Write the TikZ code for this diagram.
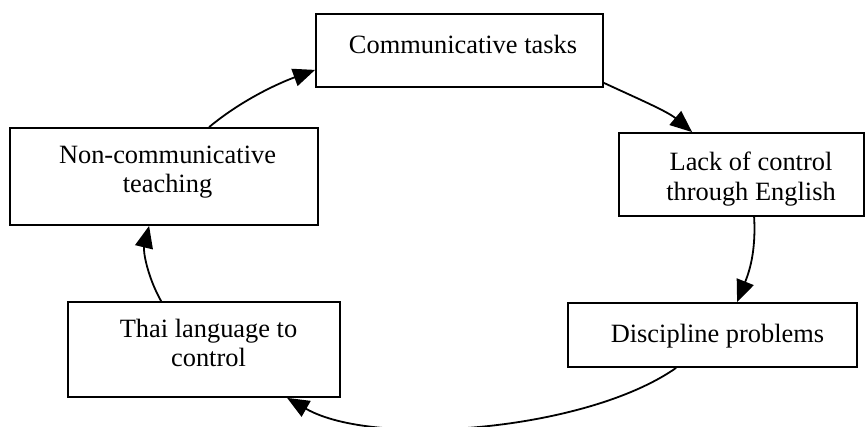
\documentclass[tikz,border=0pt]{standalone}
\usepackage{fontspec}
\setmainfont{Liberation Serif}
\usetikzlibrary{arrows.meta}
\begin{document}
\begin{tikzpicture}[x=1pt,y=-1pt,
  box/.style={draw, line width=1.8pt, rectangle, inner sep=0pt},
  lbl/.style={align=center, inner sep=0pt, font=\fontsize{26.4}{29.5}\selectfont},
  conn/.style={line width=1.8pt, -{Triangle[length=22pt,width=18pt]}}]
\useasboundingbox (0,0) rectangle (866,427);
% boxes
\node[box, minimum width=287pt, minimum height=73pt] (b1) at (459.5,50.5) {};
\node[box, minimum width=308pt, minimum height=97pt] (b2) at (164,176.5) {};
\node[box, minimum width=245pt, minimum height=83pt] (b3) at (741.5,174.5) {};
\node[box, minimum width=289pt, minimum height=64pt] (b4) at (712.5,335) {};
\node[box, minimum width=272pt, minimum height=95pt] (b5) at (204,349.5) {};
% labels
\node[lbl] (t1) at (463,44) {Communicative tasks};
\node[lbl] (t2) at (167.5,172) {Non-communicative\\teaching};
\node[lbl] (t3) at (751,179) {Lack of control\\through English};
\node[lbl] (t4) at (717.5,336) {Discipline problems};
\node[lbl] (t5) at (208.5,343) {Thai language to\\control};
% connectors
\draw[conn] ([xshift=200pt]b2.north west) .. controls +(35,-29) and +(-33,12) .. ([yshift=18pt]b1.south west);
\draw[conn] ([yshift=5pt]b1.south east) .. controls +(30,14) and +(-25,-21) .. ([xshift=74pt]b3.north west);
\draw[conn] ([xshift=136pt]b3.south west) .. controls +(2,35) and +(12,-30) .. ([xshift=170pt]b4.north west);
\draw[conn] ([xshift=109pt]b4.south west) .. controls +(-90,63) and +(87,50) .. ([xshift=220pt]b5.south west);
\draw[conn] ([xshift=94pt]b5.north west) .. controls +(-14,-25) and +(-6,25) .. ([xshift=140pt]b2.south west);
\end{tikzpicture}
\end{document}
